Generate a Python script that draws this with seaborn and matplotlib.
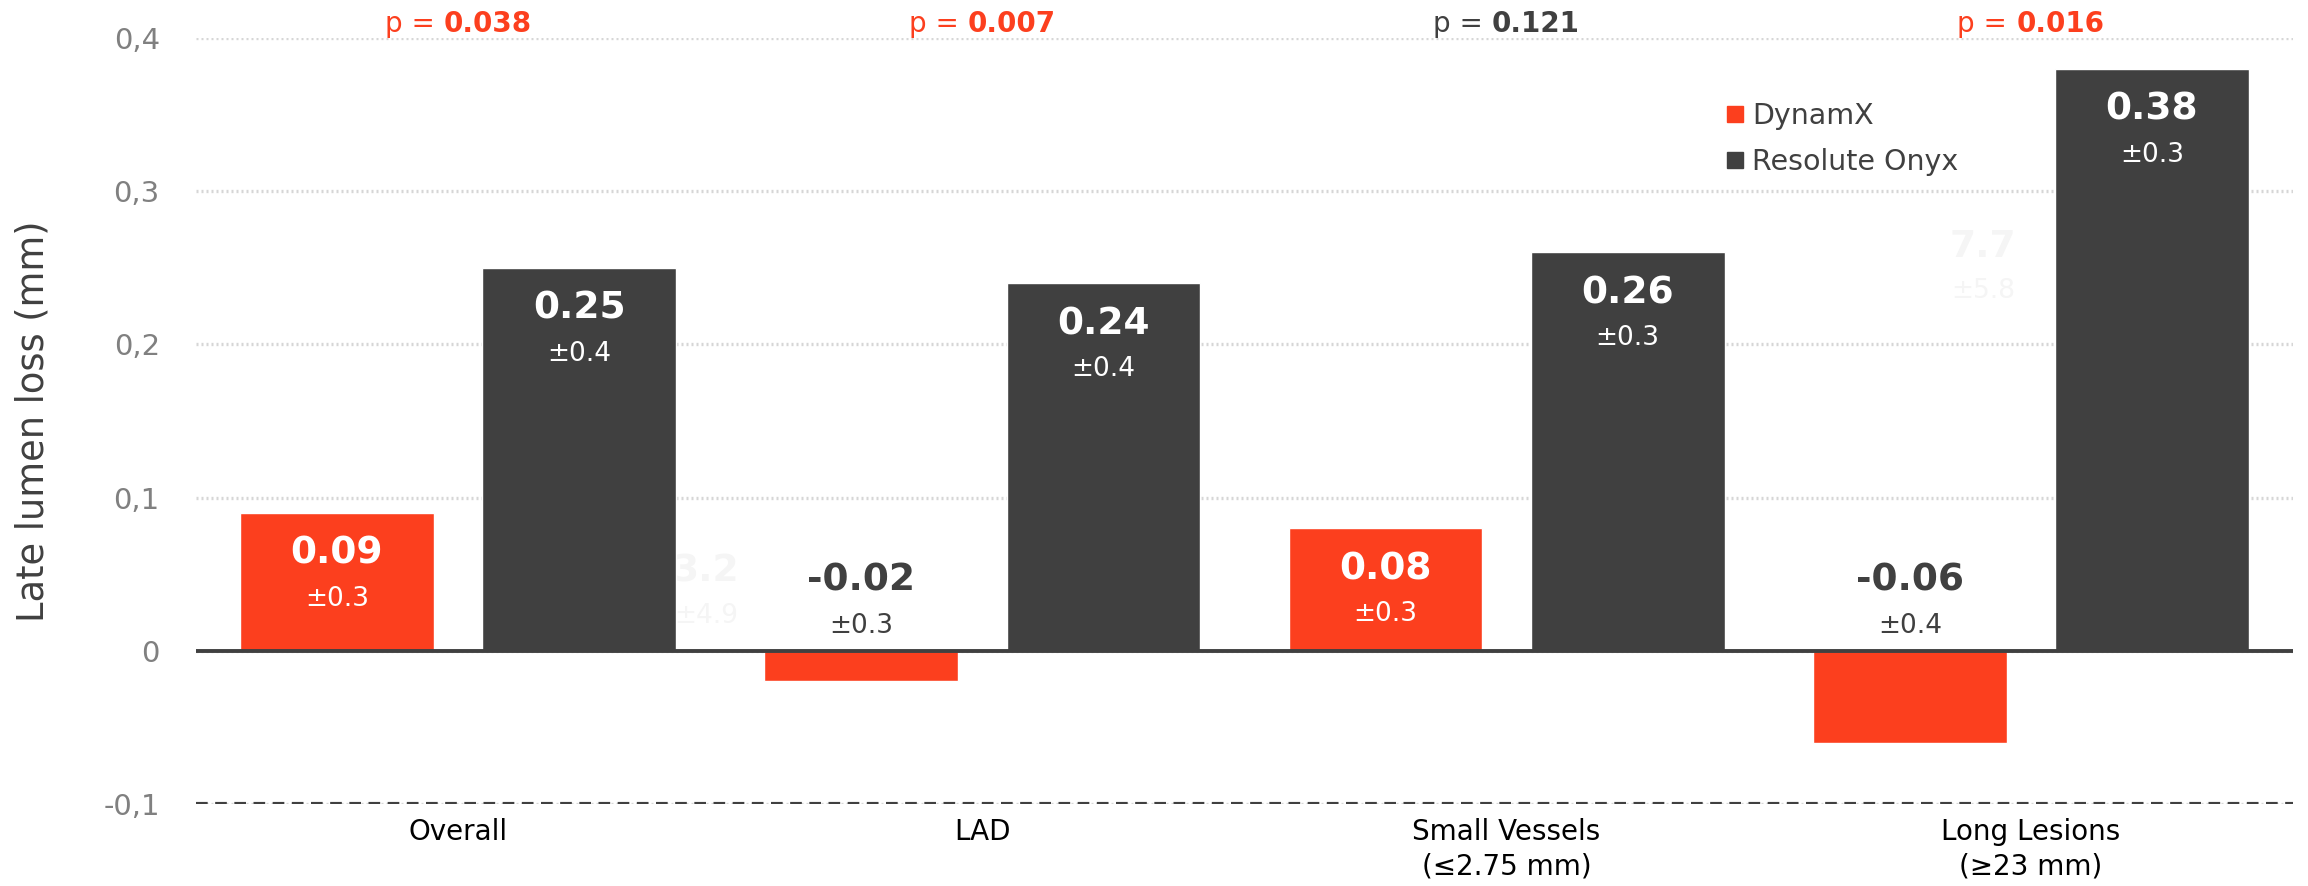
import matplotlib
matplotlib.use("Agg")
import matplotlib.pyplot as plt
import seaborn as sns
import pandas as pd
from matplotlib.lines import Line2D
from matplotlib.offsetbox import TextArea, HPacker, AnnotationBbox

# ---------------- data ----------------
categories = ["Overall", "LAD", "Small Vessels\n(≤2.75 mm)", "Long Lesions\n(≥23 mm)"]
series_names = ["DynamX", "Resolute Onyx"]
dynamx = [0.09, -0.02, 0.08, -0.06]
onyx = [0.25, 0.24, 0.26, 0.38]
dynamx_sd = ["±0.3", "±0.3", "±0.3", "±0.4"]
onyx_sd = ["±0.4", "±0.4", "±0.3", "±0.3"]
p_values = ["0.038", "0.007", "0.121", "0.016"]
p_significant = [True, True, False, True]
y_ticks = [-0.1, 0, 0.1, 0.2, 0.3, 0.4]
y_tick_labels = ["-0,1", "0", "0,1", "0,2", "0,3", "0,4"]
ghost_texts = [("3.2", "±4.9"), ("7.7", "±5.8")]

RED = "#FC3F1E"
DARK = "#404040"
GREY = "#808080"

df = pd.DataFrame({
    "category": categories * 2,
    "series": [series_names[0]] * 4 + [series_names[1]] * 4,
    "value": dynamx + onyx,
})

sns.set_theme(style="white")
plt.rcParams["font.family"] = ["DejaVu Sans"]

fig = plt.figure(figsize=(23.08, 8.86), dpi=100)
ax = fig.add_axes([0.0849, 0.0926, 0.9086, 0.8646])

sns.barplot(data=df, x="category", y="value", hue="series",
            palette=[RED, DARK], width=0.924, gap=0.2, ax=ax,
            saturation=1, legend=False, errorbar=None, zorder=3)

ax.set_xlim(-0.5, 3.5)
ax.set_ylim(-0.1, 0.4)
ax.set_yticks(y_ticks)
ax.set_yticklabels(y_tick_labels)
for s in ax.spines.values():
    s.set_visible(False)

# grid
ax.set_axisbelow(True)
ax.yaxis.grid(True, linestyle=(0, (0.6, 0.9)), color="#d6d6d6", linewidth=2.4, zorder=0)
ax.xaxis.grid(False)
ax.axhline(0, color=DARK, linewidth=2.8, zorder=4)
ax.axhline(-0.1, color=DARK, linestyle=(0, (2.8, 1.8)), linewidth=3, zorder=4)

ax.tick_params(axis="y", length=0, pad=26, labelsize=21, labelcolor=GREY)
ax.tick_params(axis="x", length=0, pad=10, labelsize=20, labelcolor="black")
for lab in ax.get_xticklabels():
    lab.set_linespacing(1.3)

ax.set_xlabel("")
ax.set_ylabel("Late lumen loss (mm)", fontsize=26.5, color=DARK)
ax.yaxis.set_label_coords(-0.069, 0.5)

# value labels
sds = [dynamx_sd, onyx_sd]
vals = [dynamx, onyx]
for ci, cont in enumerate(ax.containers):
    for i, patch in enumerate(cont.patches):
        xc = patch.get_x() + patch.get_width() / 2
        v = vals[ci][i]
        sd = sds[ci][i]
        if v >= 0:
            ax.annotate(f"{v:.2f}", xy=(xc, v), xytext=(0, -51), textcoords="offset pixels",
                        ha="center", va="baseline", fontsize=27, fontweight="bold",
                        color="white", zorder=6)
            ax.annotate(sd, xy=(xc, v), xytext=(0, -93), textcoords="offset pixels",
                        ha="center", va="baseline", fontsize=19, color="white", zorder=6)
        else:
            ax.annotate(f"{v:.2f}", xy=(xc, 0), xytext=(0, 60), textcoords="offset pixels",
                        ha="center", va="baseline", fontsize=27, fontweight="bold",
                        color=DARK, zorder=6)
            ax.annotate(sd, xy=(xc, 0), xytext=(0, 18), textcoords="offset pixels",
                        ha="center", va="baseline", fontsize=19, color=DARK, zorder=6)

# faint ghost labels present in the original
ghost_pos = [(0.473, 0.045, 0.018), (2.909, 0.257, 0.230)]
for (big, small), (gx, gy1, gy2) in zip(ghost_texts, ghost_pos):
    ax.text(gx, gy1, big, ha="center", va="baseline", fontsize=27, fontweight="bold",
            color="#f5f5f5", zorder=2)
    ax.text(gx, gy2, small, ha="center", va="baseline", fontsize=19,
            color="#f5f5f5", zorder=2)

# p-values
for i, (pv, sig) in enumerate(zip(p_values, p_significant)):
    col = RED if sig else DARK
    t1 = TextArea("p = ", textprops=dict(fontsize=20, color=col))
    t2 = TextArea(pv, textprops=dict(fontsize=20, color=col, fontweight="bold"))
    box = HPacker(children=[t1, t2], align="baseline", pad=0, sep=0)
    ab = AnnotationBbox(box, (i, 0.4), xycoords="data", box_alignment=(0.5, 0.0),
                        frameon=False, pad=0, annotation_clip=False)
    ax.add_artist(ab)

# legend
handles = [Line2D([0], [0], marker="s", linestyle="", markersize=11.5,
                  markerfacecolor=c, markeredgecolor=c) for c in [RED, DARK]]
leg = ax.legend(handles, series_names, loc="center left", bbox_to_anchor=(0.73, 0.868),
                frameon=False, fontsize=20.5, handlelength=0.6, handletextpad=0.3,
                borderpad=0, borderaxespad=0, labelspacing=0.62)
for t in leg.get_texts():
    t.set_color(DARK)

fig.savefig("out.png", dpi=100, facecolor="white")
